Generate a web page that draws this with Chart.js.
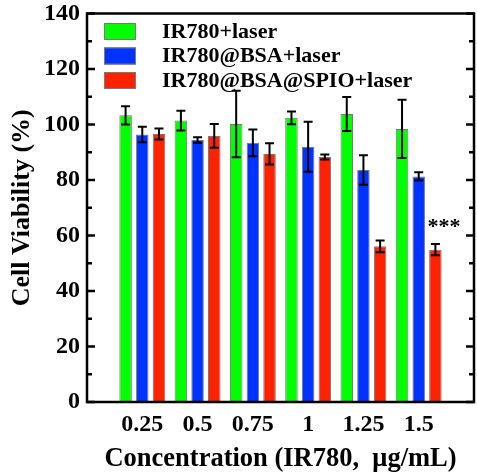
<!DOCTYPE html>
<html>
<head>
<meta charset="utf-8">
<script src="https://cdn.jsdelivr.net/npm/chart.js@4"></script>
<style>
html,body{margin:0;padding:0;background:#fff;}
#wrap{width:477px;height:475px;position:relative;}
</style>
</head>
<body>
<div id="wrap"><canvas id="c" width="477" height="475"></canvas></div>
<script>
const categories = ['0.25', '0.5', '0.75', '1', '1.25', '1.5'];
const seriesNames = ['IR780+laser', 'IR780@BSA+laser', 'IR780@BSA@SPIO+laser'];
const ir780Laser = [103.3, 101.4, 100.2, 102.4, 103.8, 98.4];
const ir780LaserErr = [3.3, 3.6, 12.0, 2.3, 6.1, 10.5];
const bsaLaser = [96.4, 94.4, 93.4, 92.0, 83.6, 81.3];
const bsaLaserErr = [2.8, 1.0, 4.8, 9.0, 5.3, 1.5];
const spioLaser = [96.6, 95.9, 89.4, 88.3, 56.1, 54.9];
const spioLaserErr = [2.0, 4.3, 3.8, 0.9, 2.1, 2.0];
const yTicks = [0, 20, 40, 60, 80, 100, 120, 140];
const significance = [{category: '1.5', series: 2, text: '***', value: 61}];

const FONT = "'Liberation Serif', 'Times New Roman', serif";
const colors = ['#00FF00', '#0033FF', '#FF2200'];

// pad with empty slots on both ends (axis spans one extra slot each side)
const labels = [''].concat(categories, ['']);
const pad = arr => [null].concat(arr, [null]);
const values = [ir780Laser, bsaLaser, spioLaser];
const errors = [ir780LaserErr, bsaLaserErr, spioLaserErr];

const datasets = values.map((v, i) => ({
  label: seriesNames[i],
  data: pad(v),
  errors: pad(errors[i]),
  backgroundColor: colors[i],
  borderColor: '#7a7a7a',
  borderWidth: 1,
  borderSkipped: false,
  categoryPercentage: 0.905,
  barPercentage: 0.75
}));

const framePlugin = {
  id: 'frame',
  afterDatasetsDraw(chart) {
    const ctx = chart.ctx;
    const y = chart.scales.y;
    ctx.save();
    ctx.strokeStyle = '#000';
    ctx.lineWidth = 2;
    chart.data.datasets.forEach((ds, di) => {
      const meta = chart.getDatasetMeta(di);
      meta.data.forEach((el, i) => {
        const v = ds.data[i], e = ds.errors[i];
        if (v == null || e == null) return;
        const yt = y.getPixelForValue(v + e), yb = y.getPixelForValue(v - e);
        const x = el.x, cw = 4.5;
        ctx.beginPath();
        ctx.moveTo(x, yt); ctx.lineTo(x, yb);
        ctx.moveTo(x - cw, yt); ctx.lineTo(x + cw, yt);
        ctx.moveTo(x - cw, yb); ctx.lineTo(x + cw, yb);
        ctx.stroke();
      });
    });
    ctx.restore();
  },
  afterDraw(chart) {
    const ctx = chart.ctx;
    const a = chart.chartArea;
    const y = chart.scales.y;
    ctx.save();
    ctx.strokeStyle = '#000';
    ctx.lineWidth = 2.5;
    ctx.beginPath();
    ctx.moveTo(a.left, a.top); ctx.lineTo(a.right, a.top);
    ctx.lineTo(a.right, a.bottom); ctx.lineTo(a.left, a.bottom);
    ctx.closePath();
    ctx.stroke();
    for (let v = y.min; v <= y.max; v += 10) {
      const py = y.getPixelForValue(v);
      const len = (v % 20 === 0) ? 8 : 5;
      ctx.beginPath();
      ctx.moveTo(a.left, py); ctx.lineTo(a.left + len, py);
      ctx.moveTo(a.right, py); ctx.lineTo(a.right - len, py);
      ctx.stroke();
    }
    ctx.font = 'bold 22px ' + FONT;
    ctx.textBaseline = 'middle';
    ctx.textAlign = 'left';
    chart.data.datasets.forEach((ds, i) => {
      const bx = a.left + 17, by = a.top + 9.5 + i * 24.5;
      ctx.fillStyle = ds.backgroundColor;
      ctx.fillRect(bx, by, 32, 17);
      ctx.lineWidth = 1;
      ctx.strokeStyle = '#7a7a7a';
      ctx.strokeRect(bx + 0.5, by + 0.5, 31, 16);
      ctx.fillStyle = '#000';
      ctx.fillText(ds.label, a.left + 75, by + 9);
    });
    significance.forEach(s => {
      const idx = labels.indexOf(s.category);
      const el = chart.getDatasetMeta(s.series).data[idx];
      ctx.fillStyle = '#000';
      ctx.font = 'bold 22px ' + FONT;
      ctx.textAlign = 'center';
      ctx.textBaseline = 'alphabetic';
      ctx.fillText(s.text, el.x + 8.5, y.getPixelForValue(s.value));
    });
    ctx.restore();
  }
};

function zeroPad(scale) {
  scale.paddingTop = 0; scale.paddingBottom = 0;
  scale.paddingLeft = 0; scale.paddingRight = 0;
}

new Chart(document.getElementById('c'), {
  type: 'bar',
  data: { labels: labels, datasets: datasets },
  options: {
    responsive: false,
    animation: false,
    layout: { padding: { top: 13.5, right: 3, left: 0, bottom: 0 } },
    plugins: { legend: { display: false }, tooltip: { enabled: false } },
    scales: {
      x: {
        type: 'category',
        offset: false,
        grid: { display: false, drawTicks: false, tickLength: 0 },
        border: { display: false },
        ticks: {
          autoSkip: false, maxRotation: 0, minRotation: 0,
          color: '#000', padding: 8,
          font: { family: FONT, size: 24, weight: 'bold' }
        },
        title: {
          display: true, text: 'Concentration (IR780,  μg/mL)', color: '#000',
          font: { family: FONT, size: 26.5, weight: 'bold' },
          padding: { top: 0, bottom: 0 }
        },
        afterFit(scale) { scale.height = 73; zeroPad(scale); }
      },
      y: {
        min: 0, max: 140,
        grid: { display: false, drawTicks: false, tickLength: 0 },
        border: { display: false },
        afterBuildTicks(scale) { scale.ticks = yTicks.map(v => ({ value: v })); },
        ticks: {
          color: '#000', padding: 7,
          font: { family: FONT, size: 24, weight: 'bold' }
        },
        title: {
          display: true, text: 'Cell Viability (%)', color: '#000',
          font: { family: FONT, size: 26, weight: 'bold' },
          padding: { top: 7, bottom: 0 }
        },
        afterFit(scale) { scale.width = 87; zeroPad(scale); }
      }
    }
  },
  plugins: [framePlugin]
});
</script>
</body>
</html>
